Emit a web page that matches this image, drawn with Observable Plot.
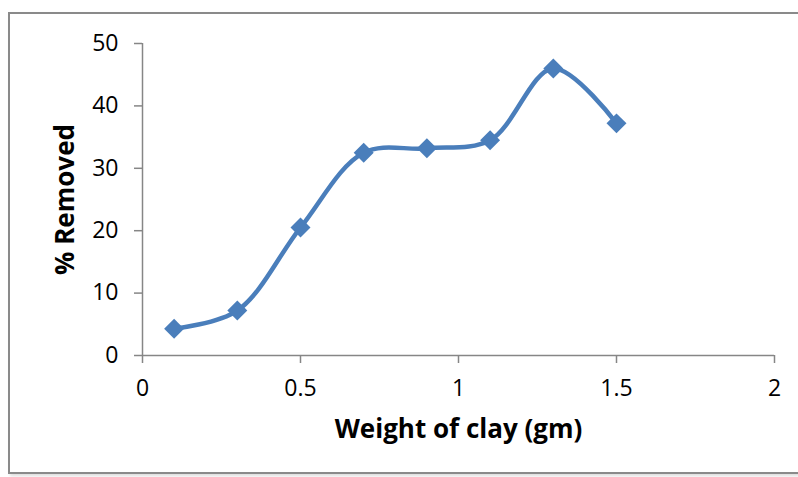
<!DOCTYPE html>
<html>
<head>
<meta charset="utf-8">
<script src="https://cdn.jsdelivr.net/npm/d3@7"></script>
<script src="https://cdn.jsdelivr.net/npm/@observablehq/plot@0.6"></script>
<style>
  html, body { margin: 0; padding: 0; background: #fff; }
  #wrap { position: relative; width: 798px; height: 477px; overflow: hidden; }
  #frame { position: absolute; left: 8px; top: 12px; width: 820px; height: 462px;
           border: 2px solid #8a8a8a; box-shadow: 2px 2px 3px #ddd; box-sizing: border-box; }
  #chart { position: absolute; left: 0; top: 0; }
</style>
</head>
<body>
<div id="wrap"><div id="frame"></div><div id="chart"></div></div>
<script>
const weights = [0.1, 0.3, 0.5, 0.7, 0.9, 1.1, 1.3, 1.5];
const removed = [4.3, 7.2, 20.5, 32.5, 33.2, 34.5, 46.0, 37.2];
const xTicks = [0, 0.5, 1, 1.5, 2];
const xTickLabels = ["0", "0.5", "1", "1.5", "2"];
const yTicks = [0, 10, 20, 30, 40, 50];
const xTitle = "Weight of clay (gm)";
const yTitle = "% Removed";

const data = weights.map((w, i) => ({w, r: removed[i]}));
const color = "#4a7ebb";
const axisColor = "#868686";
const font = "'Open Sans', 'Liberation Sans', sans-serif";

const plot = Plot.plot({
  width: 798,
  height: 477,
  marginLeft: 142,
  marginRight: 24,
  marginTop: 43,
  marginBottom: 122,
  style: {fontFamily: font, fontSize: "23px", background: "transparent", overflow: "visible"},
  x: {domain: [0, 2]},
  y: {domain: [0, 50]},
  marks: [
    Plot.ruleX([0], {y1: 0, y2: 50, stroke: axisColor, strokeWidth: 1.5}),
    Plot.ruleY([0], {x1: 0, x2: 2, stroke: axisColor, strokeWidth: 1.5}),
    Plot.axisY({ticks: yTicks, tickSize: 8, tickPadding: 16, stroke: axisColor, strokeWidth: 1.5,
      fill: "black", fontSize: 23, label: null}),
    Plot.axisX({ticks: xTicks, tickFormat: (d, i) => xTickLabels[i], tickSize: 8, tickPadding: 16,
      stroke: axisColor, strokeWidth: 1.5, fill: "black", fontSize: 23, label: null}),
    Plot.line(data, {x: "w", y: "r", stroke: color, strokeWidth: 4.5, curve: "catmull-rom"}),
    Plot.dot(data, {x: "w", y: "r", symbol: "diamond2", r: 9, fill: color, stroke: null}),
    Plot.text([xTitle], {frameAnchor: "bottom", dy: 82, fontSize: 26, fontWeight: "bold", fill: "black"}),
    Plot.text([yTitle], {frameAnchor: "left", textAnchor: "middle", dx: -77, rotate: -90, fontSize: 26, fontWeight: "bold", fill: "black"})
  ]
});
document.getElementById("chart").appendChild(plot);
</script>
</body>
</html>
